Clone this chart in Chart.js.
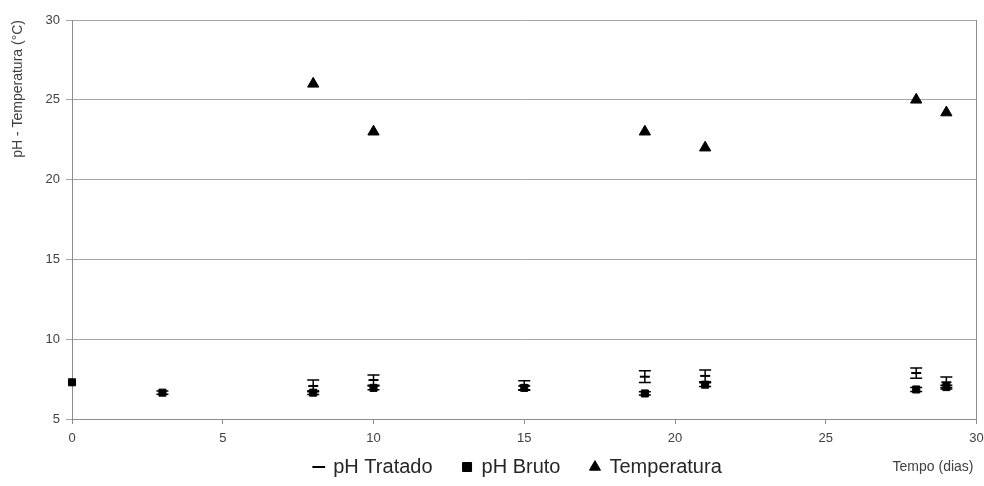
<!DOCTYPE html>
<html>
<head>
<meta charset="utf-8">
<script src="https://cdn.jsdelivr.net/npm/chart.js@4"></script>
<style>
  html, body { margin: 0; padding: 0; background: #fff; }
  #wrap { width: 984px; height: 486px; }
</style>
</head>
<body>
<div id="wrap"><canvas id="chart1" width="984" height="486"></canvas></div>
<script>
// dias de coleta
var dias = [0, 3, 8, 10, 15, 19, 21, 28, 29];
var phTratado = [null, null, 7.07, 7.44, 7.1, 7.65, 7.7, 7.88, 7.3];
var phTratadoErr = [null, null, 0.37, 0.32, 0.3, 0.37, 0.37, 0.32, 0.33];
var phBruto = [7.3, 6.65, 6.65, 6.95, 6.95, 6.6, 7.15, 6.85, 7.0];
var phBrutoErr = [0, 0.1, 0.12, 0.12, 0.12, 0.1, 0.12, 0.12, 0.12];

var diasTemp = [8, 10, 19, 21, 28, 29];
var temperatura = [26, 23, 23, 22, 25, 24.2];

var yTicks = [5, 10, 15, 20, 25, 30];

const fontFam = '"Liberation Sans", Arial, sans-serif';

function pts(xs, ys) {
  return xs.map((d, i) => ys[i] == null ? null : { x: d, y: ys[i] }).filter(p => p);
}

// barras de erro
const errorBars = {
  id: 'errorBars',
  beforeDatasetsDraw(chart) {
    const { ctx, scales } = chart;
    const sets = [[phTratado, phTratadoErr], [phBruto, phBrutoErr]];
    ctx.save();
    ctx.strokeStyle = '#000';
    ctx.lineWidth = 1.5;
    sets.forEach(([vals, errs]) => {
      dias.forEach((d, i) => {
        if (vals[i] == null || !errs[i]) return;
        const x = scales.x.getPixelForValue(d);
        const yt = scales.y.getPixelForValue(vals[i] + errs[i]);
        const yb = scales.y.getPixelForValue(vals[i] - errs[i]);
        ctx.beginPath();
        ctx.moveTo(x, yt); ctx.lineTo(x, yb);
        ctx.moveTo(x - 6, yt); ctx.lineTo(x + 6, yt);
        ctx.moveTo(x - 6, yb); ctx.lineTo(x + 6, yb);
        ctx.stroke();
      });
    });
    ctx.restore();
  }
};

// legenda mais baixa e espaçada, titulo do eixo x ao lado
const legendFix = {
  id: 'legendFix',
  beforeUpdate(chart) {
    const lg = chart.legend;
    if (lg && !lg._fixed) {
      const fit = lg.fit.bind(lg);
      lg.fit = function () { fit(); this.height = 35; };
      lg._fixed = true;
    }
  },
  afterLayout(chart) {
    const lg = chart.legend;
    lg.top -= 24;
    lg.left += 26; lg.right += 26;
  },
  afterDraw(chart) {
    const { ctx, chartArea } = chart;
    ctx.save();
    ctx.font = '14px ' + fontFam;
    ctx.fillStyle = '#404040';
    ctx.textAlign = 'right';
    ctx.textBaseline = 'middle';
    ctx.fillText('Tempo (dias)', chartArea.right - 3, 467);
    ctx.restore();
  }
};

new Chart('chart1', {
  type: 'scatter',
  data: {
    datasets: [{
      label: 'pH Tratado',
      data: pts(dias, phTratado),
      pointStyle: 'line',
      pointRadius: 5,
      borderColor: '#000',
      backgroundColor: '#000',
      borderWidth: 2,
      clip: false
    },
    {
      label: 'pH Bruto',
      data: pts(dias, phBruto),
      pointStyle: 'rect',
      pointRadius: 5,
      borderColor: '#000',
      backgroundColor: '#000',
      clip: false
    },
    {
      label: 'Temperatura',
      data: pts(diasTemp, temperatura),
      pointStyle: 'triangle',
      pointRadius: 6.5,
      borderColor: '#000',
      backgroundColor: '#000',
      clip: false
    }]
  },
  options: {
    responsive: false,
    animation: false,
    layout: { padding: { top: 20, right: 0, left: 0, bottom: 0 } },
    plugins: {
      tooltip: { enabled: false },
      legend: {
        position: 'bottom',
        labels: {
          usePointStyle: true,
          boxWidth: 9,
          boxHeight: 9,
          padding: 30,
          color: '#262626',
          font: { family: fontFam, size: 20 }
        }
      }
    },
    scales: {
      x: {
        type: 'linear',
        min: 0, max: 30,
        ticks: { stepSize: 5, color: '#404040', font: { family: fontFam, size: 13 }, padding: 7 },
        grid: { drawOnChartArea: false, drawTicks: true, tickLength: 5, color: '#8c8c8c' },
        border: { color: '#8c8c8c' },
        afterFit(scale) { scale.height = 32; scale.paddingRight = 6; }
      },
      y: {
        min: 5, max: 30,
        afterBuildTicks(scale) { scale.ticks = yTicks.map(v => ({ value: v })); },
        ticks: { color: '#404040', font: { family: fontFam, size: 13 }, padding: 6 },
        grid: { color: '#a6a6a6', tickLength: 6 },
        border: { color: '#8c8c8c' },
        title: {
          display: true,
          text: 'pH - Temperatura (°C)',
          align: 'end',
          color: '#404040',
          font: { family: fontFam, size: 14 },
          padding: { top: 10, bottom: 8 }
        },
        afterFit(scale) { scale.width = 72; }
      },
      y2: {
        position: 'right',
        min: 5, max: 30,
        ticks: { display: false },
        grid: { display: false },
        border: { color: '#8c8c8c' },
        afterFit(scale) { scale.width = 0; }
      }
    }
  },
  plugins: [errorBars, legendFix]
});
</script>
</body>
</html>
